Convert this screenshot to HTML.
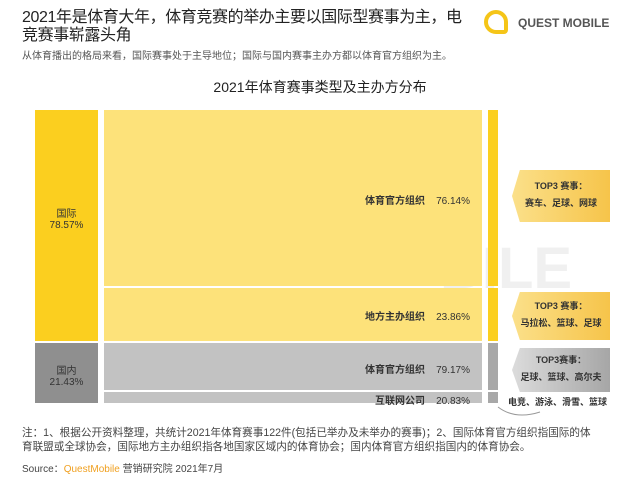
<!DOCTYPE html>
<html><head><meta charset="utf-8"><style>
body{margin:0;width:640px;height:479px;background:#fff;position:relative;overflow:hidden;font-family:"Liberation Sans","Noto Sans CJK SC",sans-serif;color:#333}
.a{position:absolute}
.t{font-size:16px;line-height:18px;color:#222;left:22px;top:9px;white-space:nowrap;letter-spacing:-0.4px}
.y1{background:#fbcf1f}.y2{background:#fde27a}.g1{background:#8f8f8f}.g2{background:#c2c2c2}
.lab{font-size:10px;color:#333;text-align:right}
.lab b{font-weight:bold}
.co{font-size:9px;text-align:center;color:#333;line-height:17px}
.fn{font-size:10.6px;color:#444;white-space:nowrap;left:22px}
</style></head><body>
<div class="a" style="left:440px;top:235px;font-size:58px;color:#f0f0f0;font-weight:bold">BILE</div>
<div class="a t">2021年是体育大年，体育竞赛的举办主要以国际型赛事为主，电<br>竞赛事崭露头角</div>
<div class="a" style="left:22px;top:47px;font-size:10px;color:#555">从体育播出的格局来看，国际赛事处于主导地位；国际与国内赛事主办方都以体育官方组织为主。</div>
<div class="a" style="left:484px;top:10px;width:24px;height:24px;border:4px solid #f5c518;border-radius:50%;border-bottom-right-radius:4px;box-sizing:border-box"></div>
<div class="a" style="left:518px;top:16px;font-size:12px;font-weight:bold;color:#555">QUEST MOBILE</div>
<div class="a" style="left:0;width:640px;top:77px;text-align:center;font-size:14px;color:#222">2021年体育赛事类型及主办方分布</div>

<div class="a y1" style="left:35px;top:110px;width:63px;height:231px"></div>
<div class="a" style="left:35px;top:205px;width:63px;text-align:center;font-size:10px">国际<br>78.57%</div>
<div class="a g1" style="left:35px;top:343px;width:63px;height:60px"></div>
<div class="a" style="left:35px;top:362px;width:63px;text-align:center;font-size:10px">国内<br>21.43%</div>

<div class="a y2" style="left:104px;top:110px;width:378px;height:176px"></div>
<div class="a y2" style="left:104px;top:288px;width:378px;height:53px"></div>
<div class="a g2" style="left:104px;top:343px;width:378px;height:47px"></div>
<div class="a g2" style="left:104px;top:392px;width:378px;height:11px"></div>
<div class="a lab" style="left:300px;top:192px;width:170px"><b>体育官方组织</b>&nbsp;&nbsp;&nbsp;&nbsp;76.14%</div>
<div class="a lab" style="left:300px;top:308px;width:170px"><b>地方主办组织</b>&nbsp;&nbsp;&nbsp;&nbsp;23.86%</div>
<div class="a lab" style="left:300px;top:361px;width:170px"><b>体育官方组织</b>&nbsp;&nbsp;&nbsp;&nbsp;79.17%</div>
<div class="a lab" style="left:300px;top:392px;width:170px"><b>互联网公司</b>&nbsp;&nbsp;&nbsp;&nbsp;20.83%</div>

<div class="a y1" style="left:488px;top:110px;width:10px;height:176px"></div>
<div class="a y1" style="left:488px;top:288px;width:10px;height:53px"></div>
<div class="a" style="left:488px;top:343px;width:10px;height:47px;background:#a8a8a8"></div>
<div class="a" style="left:488px;top:392px;width:10px;height:11px;background:#a8a8a8"></div>

<div class="a co" style="left:512px;top:170px;width:98px;height:52px;background:linear-gradient(90deg,#fbe08a,#f6c44a);clip-path:polygon(8% 0,100% 0,100% 100%,8% 100%,0 50%);padding-top:8px;box-sizing:border-box;font-weight:bold">TOP3 赛事：<br>赛车、足球、网球</div>
<div class="a co" style="left:512px;top:292px;width:98px;height:48px;background:linear-gradient(90deg,#fbe08a,#f6c44a);clip-path:polygon(8% 0,100% 0,100% 100%,8% 100%,0 50%);padding-top:6px;box-sizing:border-box;font-weight:bold">TOP3 赛事：<br>马拉松、篮球、足球</div>
<div class="a co" style="left:512px;top:348px;width:98px;height:44px;background:linear-gradient(90deg,#dcdcdc,#a6a6a6);clip-path:polygon(8% 0,100% 0,100% 100%,8% 100%,0 50%);padding-top:4px;box-sizing:border-box;font-weight:bold">TOP3赛事：<br>足球、篮球、高尔夫</div>
<div class="a" style="left:508px;top:395px;font-size:9px;font-weight:bold">电竞、游泳、滑雪、篮球</div>
<svg class="a" style="left:495px;top:404px" width="50" height="16"><path d="M3 3 Q20 16 45 8" fill="none" stroke="#999" stroke-width="1"/></svg>

<div class="a fn" style="top:425px">注：1、根据公开资料整理，共统计2021年体育赛事122件(包括已举办及未举办的赛事)；2、国际体育官方组织指国际的体</div>
<div class="a fn" style="top:439px">育联盟或全球协会，国际地方主办组织指各地国家区域内的体育协会；国内体育官方组织指国内的体育协会。</div>
<div class="a" style="left:22px;top:460px;font-size:10px;color:#444">Source：<span style="color:#f0a020">QuestMobile</span> 营销研究院 2021年7月</div>
</body></html>
